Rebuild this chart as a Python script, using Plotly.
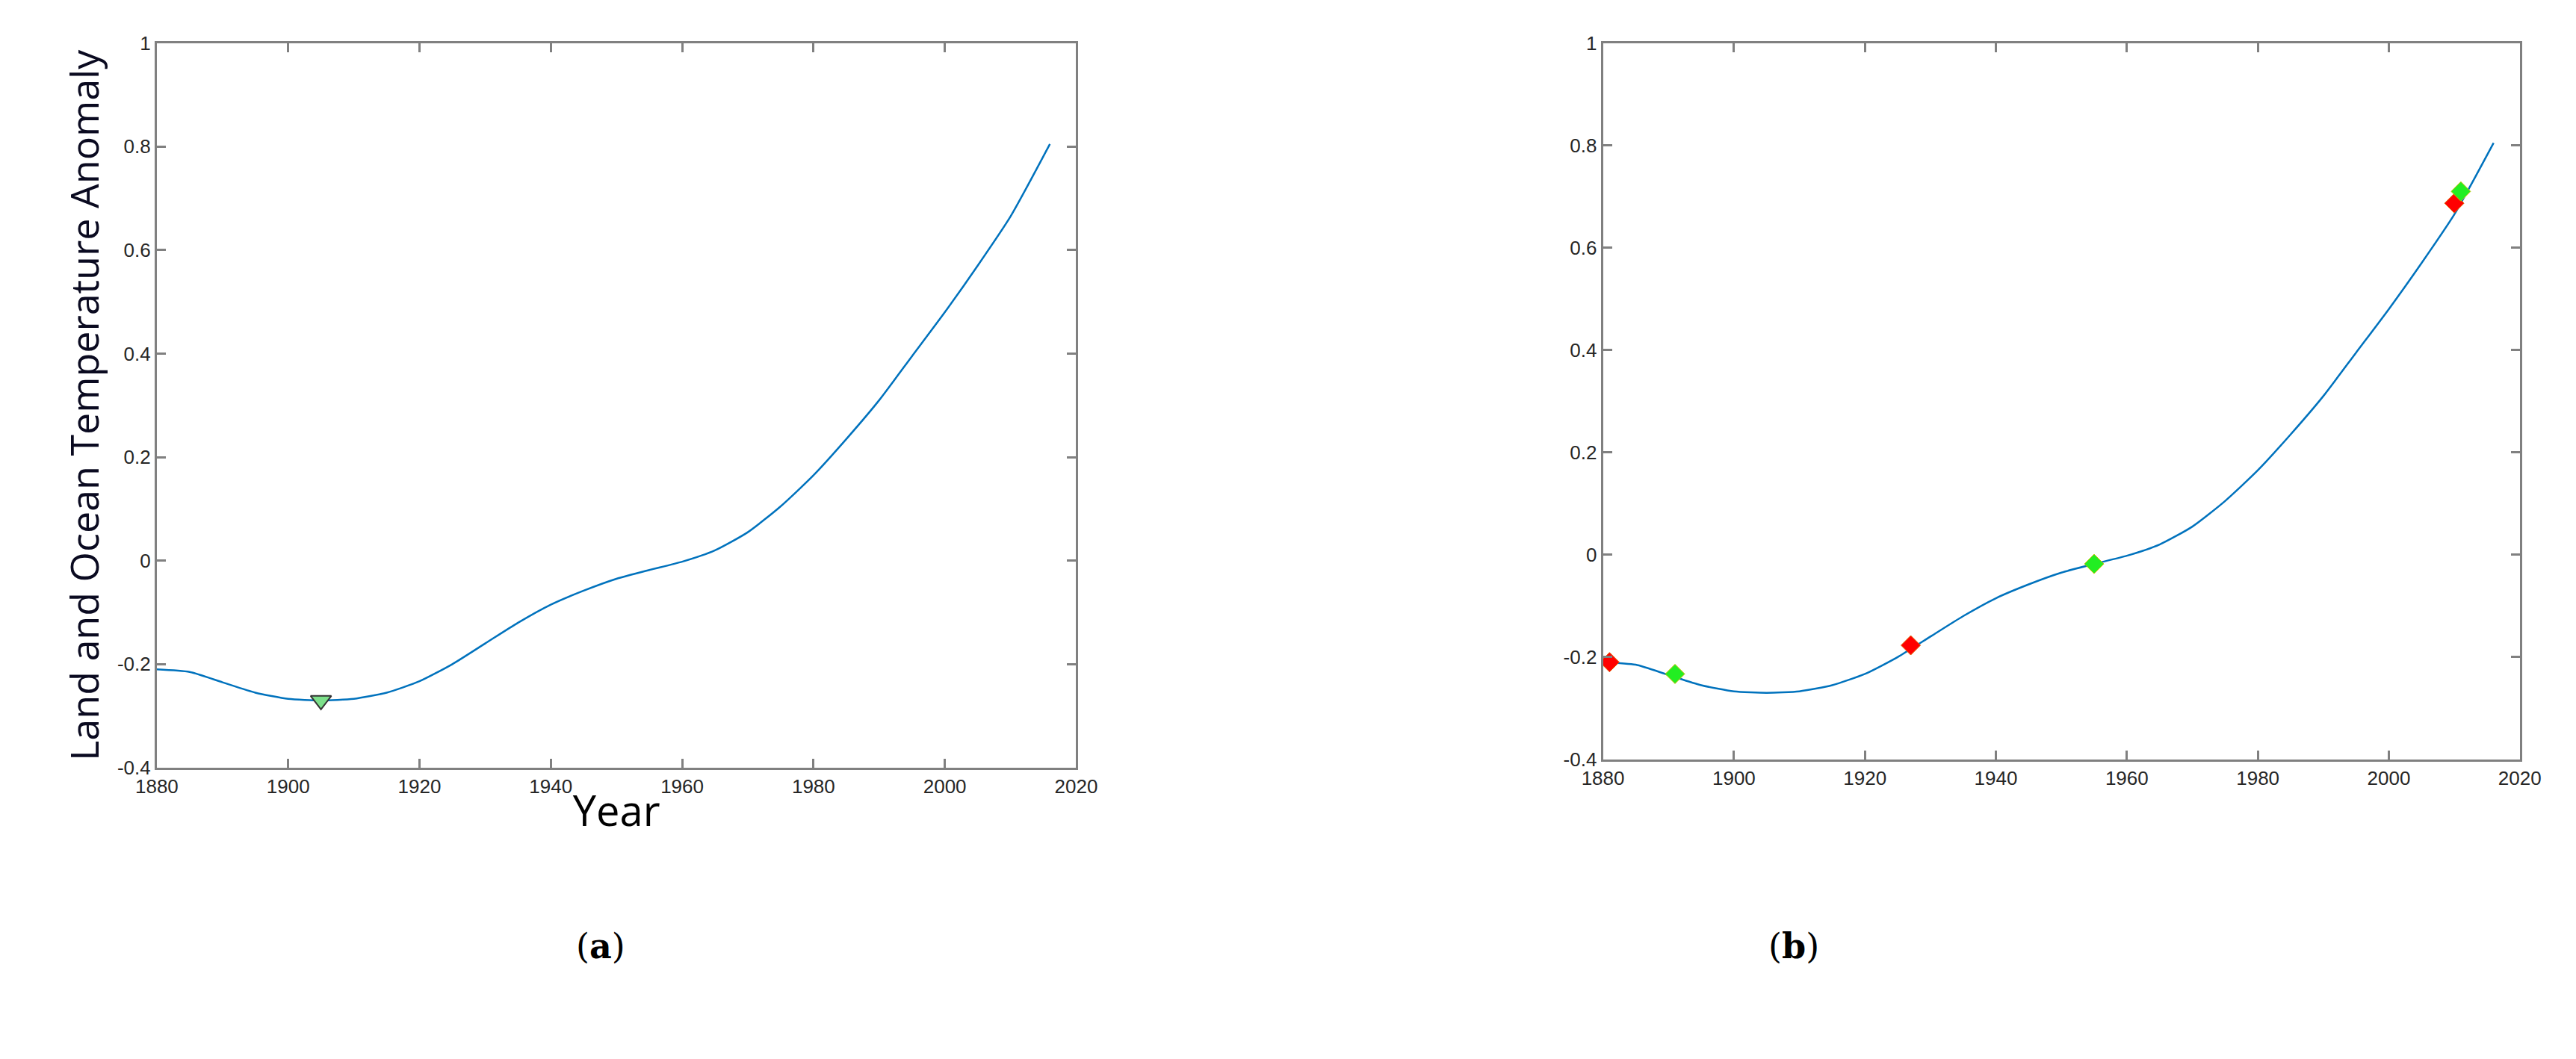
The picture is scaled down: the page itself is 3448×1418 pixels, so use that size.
import plotly.graph_objects as go

# smoothed land & ocean temperature anomaly
years = [1880, 1885, 1890, 1895, 1900, 1905, 1910, 1915, 1920, 1925, 1930, 1935,
         1940, 1945, 1950, 1955, 1960, 1965, 1970, 1975, 1980, 1985, 1990, 1995,
         2000, 2005, 2010, 2016]
anomaly = [-0.21, -0.215, -0.235, -0.255, -0.267, -0.27, -0.267, -0.255, -0.233, -0.2,
           -0.16, -0.12, -0.085, -0.058, -0.035, -0.018, -0.002, 0.02, 0.055, 0.105,
           0.165, 0.235, 0.31, 0.395, 0.48, 0.57, 0.665, 0.805]

min_year = [1905]
min_val = [-0.27]

red_years = [1881, 1927, 2010]
red_vals = [-0.21, -0.177, 0.687]
green_years = [1891, 1955, 2011]
green_vals = [-0.233, -0.018, 0.71]

LINE = "#0072BD"
FRAME = "#808080"
TICKFONT = dict(family="Liberation Sans, Arial", size=26, color="#262626")

fig = go.Figure()
for xa, ya in (("x", "y"), ("x2", "y2")):
    fig.add_trace(go.Scatter(x=years, y=anomaly, mode="lines",
                             line=dict(color=LINE, width=2.5, shape="spline", smoothing=0.6),
                             xaxis=xa, yaxis=ya, showlegend=False))

fig.add_trace(go.Scatter(x=min_year, y=min_val, mode="markers", xaxis="x", yaxis="y", showlegend=False,
                         marker=dict(symbol="triangle-down", size=24, color="#7CE08A",
                                     line=dict(color="#333333", width=2))))
fig.add_trace(go.Scatter(x=red_years, y=red_vals, mode="markers", xaxis="x2", yaxis="y2", showlegend=False,
                         marker=dict(symbol="diamond", size=20, color="#FF0000",
                                     line=dict(color="#E06000", width=1))))
fig.add_trace(go.Scatter(x=green_years, y=green_vals, mode="markers", xaxis="x2", yaxis="y2", showlegend=False,
                         marker=dict(symbol="diamond", size=20, color="#22EE22",
                                     line=dict(color="#C8C000", width=1))))

ax_common = dict(showline=True, linecolor=FRAME, linewidth=3, mirror="ticks", ticks="inside",
                 ticklen=12, tickwidth=2.5, tickcolor=FRAME, showgrid=False, zeroline=False,
                 tickfont=TICKFONT)
xticks = dict(range=[1880, 2020], tickvals=list(range(1880, 2021, 20)))
yticks = dict(range=[-0.4, 1], tickvals=[-0.4, -0.2, 0, 0.2, 0.4, 0.6, 0.8, 1],
              ticktext=["-0.4", "-0.2", "0", "0.2", "0.4", "0.6", "0.8", "1"])

fig.update_layout(
    width=3448, height=1418, plot_bgcolor="white", paper_bgcolor="white",
    margin=dict(l=0, r=0, t=0, b=0),
    xaxis=dict(domain=[0.051, 0.414], anchor="y", **xticks, **ax_common,
               title=dict(text="Year", font=dict(family="Open Sans", size=56, color="black"), standoff=0)),
    yaxis=dict(domain=[0.276, 0.975], anchor="x", **yticks, **ax_common,
               title=dict(text="Land and Ocean Temperature Anomaly",
                          font=dict(family="Open Sans", size=52, color="#0a0a20"), standoff=8)),
    xaxis2=dict(domain=[0.622, 0.984], anchor="y2", **xticks, **ax_common),
    yaxis2=dict(domain=[0.284, 0.975], anchor="x2", **yticks, **ax_common),
    annotations=[
        dict(text="(<b>a</b>)", x=0.216, y=0.083, xref="paper", yref="paper", showarrow=False,
             font=dict(family="DejaVu Serif, Liberation Serif", size=46, color="black")),
        dict(text="(<b>b</b>)", x=0.708, y=0.083, xref="paper", yref="paper", showarrow=False,
             font=dict(family="DejaVu Serif, Liberation Serif", size=46, color="black")),
    ],
)

fig.write_html("out.html")
